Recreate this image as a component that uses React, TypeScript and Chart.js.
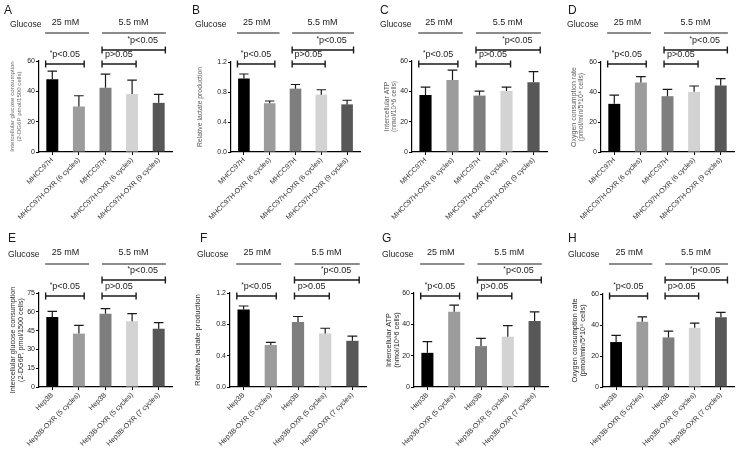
import React, { useEffect, useRef } from "react";
import { Chart, registerables } from "chart.js";

Chart.register(...registerables);

// ---------------- DATA ----------------
const mhccLabels = ["MHCC97H", "MHCC97H-OXR (6 cycles)", "MHCC97H", "MHCC97H-OXR (6 cycles)", "MHCC97H-OXR (9 cycles)"];
const hepLabels = ["Hep3B", "Hep3B-OXR (5 cycles)", "Hep3B", "Hep3B-OXR (5 cycles)", "Hep3B-OXR (7 cycles)"];
const groupLabels = ["25 mM", "5.5 mM"];
const glucoseLabel = "Glucose";
const sigLeft = "p<0.05";
const sigNs = "p>0.05";

const aMeans = [48, 30, 42.3, 38.2, 32.4];
const aErrTops = [53.3, 37.1, 51.4, 47.4, 38];
const bMeans = [0.98, 0.65, 0.845, 0.765, 0.635];
const bErrTops = [1.04, 0.68, 0.9, 0.83, 0.69];
const cMeans = [37.6, 47.4, 37.2, 40.3, 46];
const cErrTops = [42.8, 54, 40.2, 42.8, 53];
const dMeans = [32.1, 46.3, 37.2, 40.1, 44.3];
const dErrTops = [37.9, 50.3, 41.8, 44, 48.9];
const eMeans = [55.9, 42.6, 58.5, 52.4, 46.5];
const eErrTops = [60.4, 49.2, 62.5, 58.5, 51.3];
const fMeans = [0.99, 0.536, 0.83, 0.684, 0.59];
const fErrTops = [1.034, 0.57, 0.9, 0.75, 0.65];
const gMeans = [21.8, 48, 26.1, 32.1, 42.2];
const gErrTops = [29, 52.2, 31, 39.2, 48];
const hMeans = [29, 42.1, 32, 38.2, 45];
const hErrTops = [33.3, 45.2, 36, 41.2, 48.1];

const yMaxes = [60, 1.2, 60, 60, 75, 1.2, 60, 60];
const ySteps = [20, 0.4, 20, 20, 15, 0.4, 20, 20];
const yDecimals = [0, 1, 0, 0, 0, 1, 0, 0];

const titleA = ["Intercellular glucose consumption", "(2-DG6P pmol/1500 cells)"];
const titleB = ["Relative lactate production"];
const titleC = ["Intercellular ATP", "(nmol/10^6 cells)"];
const titleD = ["Oxygen consumption rate", "(pmol/min/5*10\u2074 cells)"];
const titleE = ["Intercellular glucose consumption", "(2-DG6P, pmol/1500 cells)"];
const titleF = ["Relative lactate production"];
const titleG = ["Intercellular ATP", "(nmol/10^6 cells)"];
const titleH = ["Oxygen consumption rate", "(pmol/min/5*10\u2074 cells)"];

const letters = ["A", "B", "C", "D", "E", "F", "G", "H"];

// ---------------- STYLE / LAYOUT ----------------
const FONT = '"Liberation Sans", Arial, Helvetica, sans-serif';
const barColors = ["#000000", "#9c9c9c", "#7e7e7e", "#d3d3d3", "#575757"];

type Lay = {
  x: number; y: number; w: number; h: number;
  left: number; right: number; top: number; bottom: number;
  titlePad: number; titleSize: number; letterX: number; glucoseX: number; titleColor: string;
};
const layouts: Lay[] = [
  { x: 0, y: 0, w: 185, h: 225, left: 39, right: 172, top: 61, bottom: 152, titlePad: 9, titleSize: 6.1, letterX: 4, glucoseX: 10, titleColor: "#6a6a6a" },
  { x: 185, y: 0, w: 185, h: 225, left: 46, right: 175, top: 62, bottom: 152, titlePad: 11, titleSize: 6.8, letterX: 7, glucoseX: 10, titleColor: "#5a5a5a" },
  { x: 370, y: 0, w: 185, h: 225, left: 42, right: 177, top: 61, bottom: 152, titlePad: 13, titleSize: 6.8, letterX: 10, glucoseX: 10, titleColor: "#5a5a5a" },
  { x: 555, y: 0, w: 190, h: 225, left: 46, right: 179, top: 62, bottom: 152, titlePad: 15, titleSize: 7, letterX: 13, glucoseX: 12, titleColor: "#5a5a5a" },
  { x: 0, y: 225, w: 185, h: 226, left: 39, right: 172, top: 68, bottom: 162, titlePad: 9, titleSize: 7.2, letterX: 8, glucoseX: 8, titleColor: "#2a2a2a" },
  { x: 185, y: 225, w: 185, h: 226, left: 45, right: 181, top: 68, bottom: 162, titlePad: 9, titleSize: 7.8, letterX: 15, glucoseX: 12, titleColor: "#2a2a2a" },
  { x: 370, y: 225, w: 185, h: 226, left: 44, right: 178, top: 68, bottom: 162, titlePad: 15, titleSize: 7.4, letterX: 12, glucoseX: 12, titleColor: "#2a2a2a" },
  { x: 555, y: 225, w: 190, h: 226, left: 48, right: 179, top: 69, bottom: 162, titlePad: 16, titleSize: 7.4, letterX: 13, glucoseX: 13, titleColor: "#2a2a2a" },
];
const rowY = [
  { letterY: 11, glucoseY: 25, groupLabelY: 23, groupLineY: 33, upperY: 50, lowerY: 64 },
  { letterY: 14, glucoseY: 30, groupLabelY: 28, groupLineY: 39, upperY: 55, lowerY: 71 },
];

type PanelCfg = { letter: string; labels: string[]; means: number[]; errs: number[]; yMax: number; yStep: number; dec: number; title: string[] };
const panels: PanelCfg[] = [
  { letter: letters[0], labels: mhccLabels, means: aMeans, errs: aErrTops, yMax: yMaxes[0], yStep: ySteps[0], dec: yDecimals[0], title: titleA },
  { letter: letters[1], labels: mhccLabels, means: bMeans, errs: bErrTops, yMax: yMaxes[1], yStep: ySteps[1], dec: yDecimals[1], title: titleB },
  { letter: letters[2], labels: mhccLabels, means: cMeans, errs: cErrTops, yMax: yMaxes[2], yStep: ySteps[2], dec: yDecimals[2], title: titleC },
  { letter: letters[3], labels: mhccLabels, means: dMeans, errs: dErrTops, yMax: yMaxes[3], yStep: ySteps[3], dec: yDecimals[3], title: titleD },
  { letter: letters[4], labels: hepLabels, means: eMeans, errs: eErrTops, yMax: yMaxes[4], yStep: ySteps[4], dec: yDecimals[4], title: titleE },
  { letter: letters[5], labels: hepLabels, means: fMeans, errs: fErrTops, yMax: yMaxes[5], yStep: ySteps[5], dec: yDecimals[5], title: titleF },
  { letter: letters[6], labels: hepLabels, means: gMeans, errs: gErrTops, yMax: yMaxes[6], yStep: ySteps[6], dec: yDecimals[6], title: titleG },
  { letter: letters[7], labels: hepLabels, means: hMeans, errs: hErrTops, yMax: yMaxes[7], yStep: ySteps[7], dec: yDecimals[7], title: titleH },
];

function Panel({ cfg, lay, row }: { cfg: PanelCfg; lay: Lay; row: typeof rowY[0] }) {
  const ref = useRef<HTMLCanvasElement | null>(null);
  useEffect(() => {
    const canvas = ref.current;
    if (!canvas) return;
    const xAt = (chart: any, idx: number) => {
      const s = chart.scales.x;
      const p0 = s.getPixelForValue(0);
      const p1 = s.getPixelForValue(1);
      return p0 + idx * (p1 - p0);
    };
    const drawSig = (ctx: CanvasRenderingContext2D, text: string, star: boolean, cx: number, cy: number) => {
      const mainFont = `9px ${FONT}`;
      const starFont = `6.5px ${FONT}`;
      ctx.font = mainFont;
      const wMain = ctx.measureText(text).width;
      ctx.font = starFont;
      const wStar = star ? ctx.measureText("*").width : 0;
      const x0 = cx - (wMain + wStar) / 2;
      ctx.textAlign = "left";
      ctx.textBaseline = "middle";
      if (star) {
        ctx.font = starFont;
        ctx.fillText("*", x0, cy - 2);
      }
      ctx.font = mainFont;
      ctx.fillText(text, x0 + wStar, cy);
    };
    const bracket = (ctx: CanvasRenderingContext2D, x1: number, x2: number, y: number) => {
      ctx.beginPath();
      ctx.moveTo(x1, y); ctx.lineTo(x2, y);
      ctx.moveTo(x1, y - 3.5); ctx.lineTo(x1, y + 3.5);
      ctx.moveTo(x2, y - 3.5); ctx.lineTo(x2, y + 3.5);
      ctx.stroke();
    };
    const plugin = {
      id: "annot" + cfg.letter,
      afterDatasetsDraw(chart: any) {
        const ctx = chart.ctx as CanvasRenderingContext2D;
        const ys = chart.scales.y;
        const meta = chart.getDatasetMeta(0);
        ctx.save();
        ctx.strokeStyle = "#1a1a1a";
        ctx.lineWidth = 1.2;
        meta.data.forEach((bar: any, i: number) => {
          const top = ys.getPixelForValue(cfg.errs[i]);
          const half = bar.width * 0.4;
          ctx.beginPath();
          ctx.moveTo(bar.x, bar.y);
          ctx.lineTo(bar.x, top);
          ctx.moveTo(bar.x - half, top);
          ctx.lineTo(bar.x + half, top);
          ctx.stroke();
        });
        ctx.restore();
      },
      afterDraw(chart: any) {
        const ctx = chart.ctx as CanvasRenderingContext2D;
        ctx.save();
        ctx.fillStyle = "#1a1a1a";
        ctx.strokeStyle = "#1a1a1a";
        ctx.textBaseline = "middle";
        ctx.textAlign = "left";
        ctx.font = `12px ${FONT}`;
        ctx.fillText(cfg.letter, lay.letterX, row.letterY);
        ctx.font = `8.6px ${FONT}`;
        ctx.fillText(glucoseLabel, lay.glucoseX, row.glucoseY);
        ctx.font = `9px ${FONT}`;
        ctx.textAlign = "center";
        ctx.fillText(groupLabels[0], xAt(chart, 0.5), row.groupLabelY);
        ctx.fillText(groupLabels[1], xAt(chart, 3.05), row.groupLabelY);
        ctx.lineWidth = 1.2;
        ctx.beginPath();
        ctx.moveTo(xAt(chart, -0.27), row.groupLineY);
        ctx.lineTo(xAt(chart, 1.38), row.groupLineY);
        ctx.moveTo(xAt(chart, 1.87), row.groupLineY);
        ctx.lineTo(xAt(chart, 4.27), row.groupLineY);
        ctx.stroke();
        ctx.lineWidth = 1.4;
        bracket(ctx, xAt(chart, -0.25), xAt(chart, 1.2), row.lowerY);
        bracket(ctx, xAt(chart, 1.87), xAt(chart, 3.15), row.lowerY);
        bracket(ctx, xAt(chart, 1.87), xAt(chart, 4.25), row.upperY);
        drawSig(ctx, sigLeft, true, xAt(chart, 0.47), row.lowerY - 9);
        drawSig(ctx, sigNs, false, xAt(chart, 2.5), row.lowerY - 9);
        drawSig(ctx, sigLeft, true, xAt(chart, 3.4), row.upperY - 9);
        ctx.restore();
      },
    };

    const xHeight = lay.h - lay.bottom;
    const chart = new Chart(canvas, {
      type: "bar",
      data: {
        labels: cfg.labels,
        datasets: [
          {
            data: cfg.means,
            backgroundColor: barColors,
            borderWidth: 0,
            barPercentage: 0.45,
            categoryPercentage: 1,
          },
        ],
      },
      options: {
        responsive: false,
        animation: false,
        devicePixelRatio: 1,
        layout: { padding: { left: 0, right: lay.w - lay.right, top: lay.top, bottom: 0 } },
        plugins: { legend: { display: false }, tooltip: { enabled: false }, title: { display: false } },
        scales: {
          x: {
            offset: true,
            grid: { display: true, drawOnChartArea: false, drawTicks: true, tickLength: 3, color: "#000", lineWidth: 1, offset: false },
            border: { display: true, color: "#000", width: 1.2 },
            ticks: {
              autoSkip: false,
              maxRotation: 45,
              minRotation: 45,
              padding: 1,
              color: "#333",
              font: { family: FONT, size: 7.1 },
            },
            afterFit: (s: any) => { s.height = xHeight; },
          },
          y: {
            min: 0,
            max: cfg.yMax,
            grid: { display: true, drawOnChartArea: false, drawTicks: true, tickLength: 3, color: "#000", lineWidth: 1 },
            border: { display: true, color: "#000", width: 1.2 },
            ticks: {
              stepSize: cfg.yStep,
              padding: 1,
              color: "#222",
              font: { family: FONT, size: 7 },
              callback: (v: any) => Number(v).toFixed(cfg.dec),
            },
            title: {
              display: true,
              text: cfg.title,
              color: lay.titleColor,
              font: { family: FONT, size: lay.titleSize, lineHeight: 1.1 },
              padding: { top: lay.titlePad, bottom: 0 },
            },
            afterFit: (s: any) => { s.width = lay.left; },
          },
        },
      },
      plugins: [plugin],
    } as any);
    return () => chart.destroy();
  }, [cfg, lay, row]);

  return (
    <canvas
      ref={ref}
      width={lay.w}
      height={lay.h}
      style={{ position: "absolute", left: lay.x, top: lay.y, width: lay.w, height: lay.h }}
    />
  );
}

export default function App() {
  return (
    <div style={{ position: "absolute", left: 0, top: 0, width: 745, height: 451, background: "#fff", overflow: "hidden" }}>
      {panels.map((p, i) => (
        <Panel key={p.letter} cfg={p} lay={layouts[i]} row={rowY[i < 4 ? 0 : 1]} />
      ))}
    </div>
  );
}
